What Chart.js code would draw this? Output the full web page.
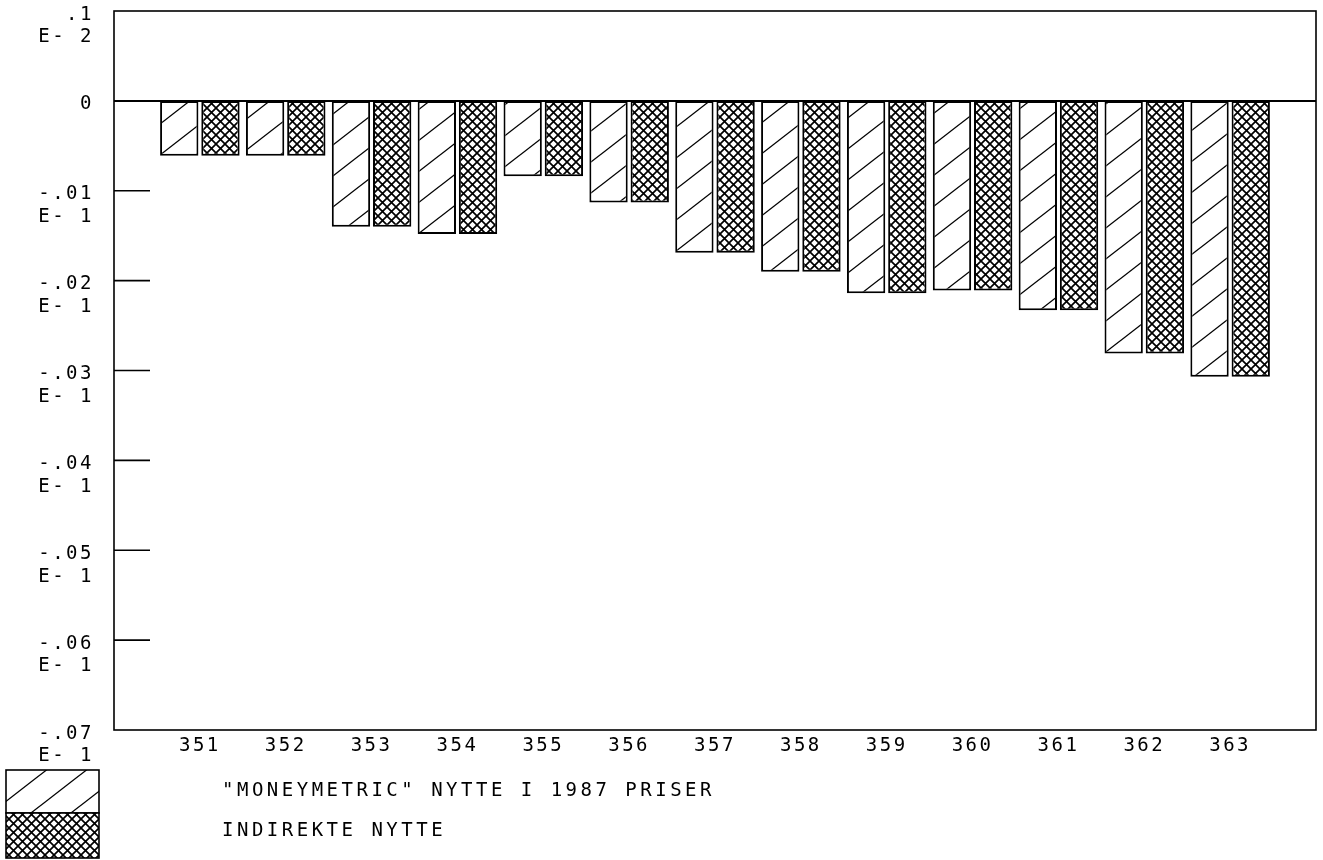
<!DOCTYPE html>
<html>
<head>
<meta charset="utf-8">
<script src="https://cdn.jsdelivr.net/npm/chart.js@4/dist/chart.umd.min.js"></script>
<style>
  html, body { margin: 0; padding: 0; background: #fff; }
</style>
</head>
<body>
<canvas id="nytteChart" width="1323" height="860"></canvas>
<script>
'use strict';

/* ── data ── */
const categories = ['351', '352', '353', '354', '355', '356', '357', '358', '359', '360', '361', '362', '363'];
const moneymetric = [-0.00061, -0.00061, -0.00140, -0.00148, -0.00084, -0.00113, -0.00169, -0.00190, -0.00214, -0.00211, -0.00233, -0.00281, -0.00307];
const indirekte   = [-0.00061, -0.00061, -0.00140, -0.00148, -0.00084, -0.00113, -0.00169, -0.00190, -0.00214, -0.00211, -0.00233, -0.00281, -0.00307];
const yTickValues = [0.001, 0, -0.001, -0.002, -0.003, -0.004, -0.005, -0.006, -0.007];
const yTickLabels = [
    [' .1', 'E- 2'], ['0', ''], ['-.01', 'E- 1'], ['-.02', 'E- 1'], ['-.03', 'E- 1'],
    ['-.04', 'E- 1'], ['-.05', 'E- 1'], ['-.06', 'E- 1'], ['-.07', 'E- 1'],
];
const seriesLabels = ['"MONEYMETRIC" NYTTE I 1987 PRISER', 'INDIREKTE NYTTE'];

const FONT = "'DejaVu Sans Mono', 'Liberation Mono', monospace";

/* ── hatch patterns ── */
function diagonalPattern() {
    const w = 40, h = 31;
    const c = document.createElement('canvas');
    c.width = w; c.height = h;
    const g = c.getContext('2d');
    g.fillStyle = '#fff';
    g.fillRect(0, 0, w, h);
    g.strokeStyle = '#000';
    g.lineWidth = 1.3;
    for (const [dx, dy] of [[0, 0], [-w, 0], [w, 0], [0, -h], [0, h]]) {
        g.beginPath();
        g.moveTo(dx, h + dy);
        g.lineTo(w + dx, dy);
        g.stroke();
    }
    return g.createPattern(c, 'repeat');
}

function crossPattern() {
    const s = 9;
    const c = document.createElement('canvas');
    c.width = s; c.height = s;
    const g = c.getContext('2d');
    g.fillStyle = '#fff';
    g.fillRect(0, 0, s, s);
    g.strokeStyle = '#000';
    g.lineWidth = 1.7;
    for (const d of [-s, 0, s]) {
        g.beginPath();
        g.moveTo(d, 0); g.lineTo(d + s, s);
        g.moveTo(d, s); g.lineTo(d + s, 0);
        g.stroke();
    }
    return g.createPattern(c, 'repeat');
}

const hatchA = diagonalPattern();
const hatchB = crossPattern();

/* ── plotter look: wide letter spacing, frame, inner ticks, zero line, legend ── */
const framePlugin = {
    id: 'frame',
    beforeUpdate(chart) { chart.ctx.letterSpacing = '2.5px'; },
    beforeDraw(chart) { chart.ctx.letterSpacing = '2.5px'; },
    afterDatasetsDraw(chart) {
        const { ctx, chartArea: a } = chart;
        const y = chart.scales.y;
        ctx.save();
        ctx.strokeStyle = '#000';
        ctx.lineWidth = 1.6;
        ctx.strokeRect(a.left, a.top, a.right - a.left, a.bottom - a.top);
        ctx.lineWidth = 2;
        const y0 = y.getPixelForValue(0);
        ctx.beginPath();
        ctx.moveTo(a.left, y0);
        ctx.lineTo(a.right, y0);
        ctx.stroke();
        ctx.lineWidth = 1.6;
        yTickValues.forEach(v => {
            if (v < 0 && v > y.min) {
                const py = y.getPixelForValue(v);
                ctx.beginPath();
                ctx.moveTo(a.left, py);
                ctx.lineTo(a.left + 36, py);
                ctx.stroke();
            }
        });
        ctx.restore();
    },
    afterDraw(chart) {
        const { ctx } = chart;
        const boxes = [
            { y: 770, h: 43, fill: hatchA },
            { y: 813, h: 45, fill: hatchB },
        ];
        ctx.save();
        boxes.forEach(b => {
            ctx.fillStyle = b.fill;
            ctx.fillRect(6, b.y, 93, b.h);
            ctx.strokeStyle = '#000';
            ctx.lineWidth = 1.6;
            ctx.strokeRect(6, b.y, 93, b.h);
        });
        ctx.fillStyle = '#000';
        ctx.font = '19px ' + FONT;
        ctx.letterSpacing = '3.5px';
        ctx.textBaseline = 'middle';
        ctx.fillText(chart.data.datasets[0].label, 222, 791);
        ctx.fillText(chart.data.datasets[1].label, 222, 831);
        ctx.restore();
    },
};

const ctx = document.getElementById('nytteChart').getContext('2d');
new Chart(ctx, {
    type: 'bar',
    data: {
        datasets: [
            {
                label: seriesLabels[0],
                data: categories.map((c, i) => ({ x: Number(c), y: moneymetric[i] })),
                backgroundColor: hatchA,
                borderColor: '#000',
                borderWidth: 2,
                borderSkipped: false,
                categoryPercentage: 0.96,
                barPercentage: 0.93,
            },
            {
                label: seriesLabels[1],
                data: categories.map((c, i) => ({ x: Number(c), y: indirekte[i] })),
                backgroundColor: hatchB,
                borderColor: '#000',
                borderWidth: 2,
                borderSkipped: false,
                categoryPercentage: 0.96,
                barPercentage: 0.93,
            },
        ],
    },
    options: {
        responsive: false,
        animation: false,
        layout: { padding: { left: 0, top: 11, right: 7, bottom: 100 } },
        plugins: {
            legend: { display: false },
            tooltip: { enabled: false },
        },
        scales: {
            x: {
                type: 'linear',
                offset: false,
                min: Number(categories[0]) - 1,
                max: Number(categories[categories.length - 1]) + 1,
                afterBuildTicks: s => { s.ticks = categories.map(c => ({ value: Number(c) })); },
                afterFit: s => { s.height = 30; s.paddingLeft = 0; s.paddingRight = 0; },
                grid: { display: false, drawTicks: false },
                border: { display: false },
                ticks: {
                    callback: v => String(v),
                    color: '#000',
                    font: { family: FONT, size: 19 },
                    padding: 5,
                    maxRotation: 0,
                    autoSkip: false,
                },
            },
            y: {
                min: yTickValues[yTickValues.length - 1],
                max: yTickValues[0],
                afterBuildTicks: s => { s.ticks = yTickValues.map(v => ({ value: v })); },
                afterFit: s => { s.width = 114; s.paddingTop = 0; s.paddingBottom = 0; },
                grid: { display: false, drawTicks: false },
                border: { display: false },
                ticks: {
                    callback: v => yTickLabels[yTickValues.findIndex(t => Math.abs(t - v) < 1e-9)],
                    color: '#000',
                    font: { family: FONT, size: 19 },
                    padding: 20,
                    labelOffset: 15,
                },
            },
        },
    },
    plugins: [framePlugin],
});
</script>
</body>
</html>
